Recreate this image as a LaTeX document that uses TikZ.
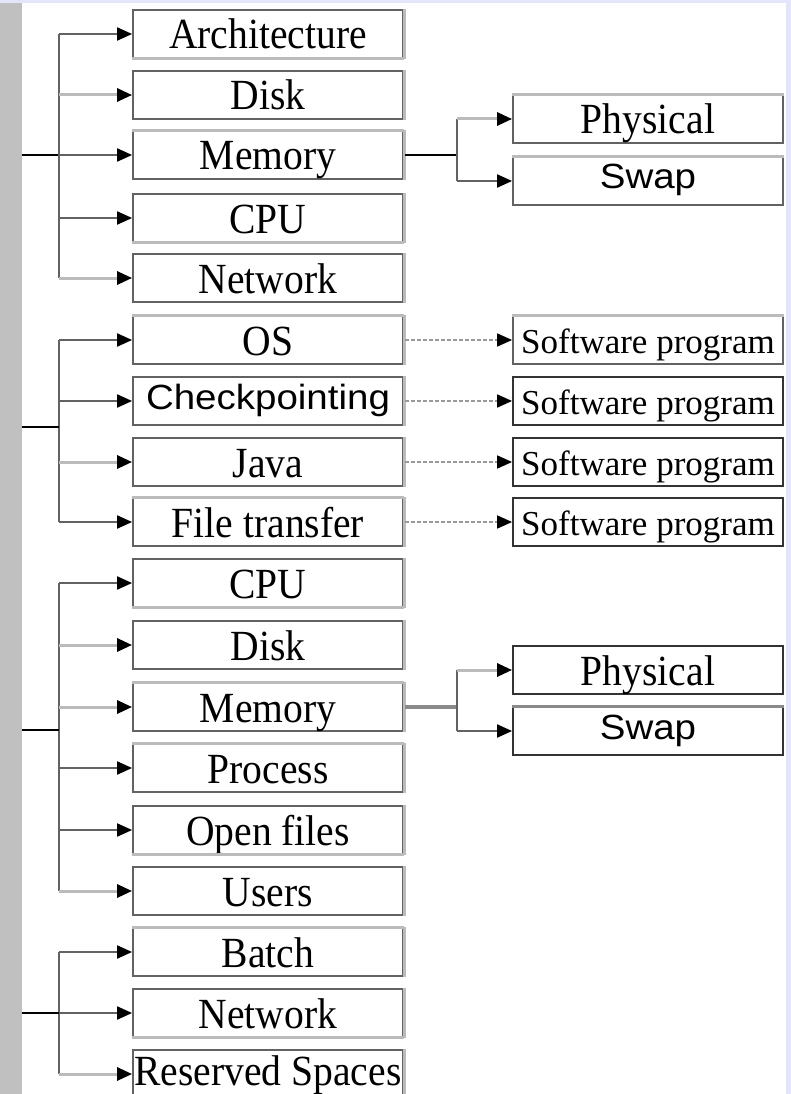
\documentclass[tikz,border=0pt]{standalone}
\usepackage{fontspec}
\setmainfont{Liberation Serif}[FakeStretch=0.92]
\newfontfamily\progfont{Liberation Serif}
\newfontfamily\sansf{Liberation Sans}[FakeStretch=1.1]
\usetikzlibrary{arrows.meta}
\definecolor{lav}{HTML}{E4E4FA}
\definecolor{barg}{HTML}{C0C0C0}
\definecolor{edge}{HTML}{626262}
\definecolor{pale}{HTML}{BBBBBB}
\definecolor{midg}{HTML}{8A8A8A}
\definecolor{dashg}{HTML}{9A9A9A}

\begin{document}
\begin{tikzpicture}[x=1pt,y=-1pt,
  box/.style={draw=edge, line width=1.8pt, fill=white, minimum width=270pt,
    minimum height=48pt, inner sep=0pt, anchor=center,
    font=\fontsize{43}{46}\selectfont, text height=36pt, text depth=6pt},
  sanslbl/.style={font=\sansf\fontsize{35}{40}\selectfont, text height=28pt, text depth=12pt},
  proglbl/.style={font=\progfont\fontsize{35}{40}\selectfont, text height=32pt, text depth=6pt},
  darkbox/.style={draw=black!80},
  tip/.style={-{Triangle[length=15pt,width=13pt,color=black]}},
  darkline/.style={draw=edge, line width=2pt},
  paleline/.style={draw=pale, line width=3pt},
  trunk/.style={draw=black, line width=2pt},
  dotline/.style={draw=dashg, line width=1.6pt, dash pattern=on 4pt off 2pt},
]
% canvas
\fill[lav] (0,0) rectangle (791,1094);
\fill[barg] (0,3) rectangle (22,1094);
\fill[white] (22,3) rectangle (786,1094);
\useasboundingbox (0,0) rectangle (791,1094);

% left column
\node[box] (arch)  at (268,34)   {Architecture};
\node[box] (disk1) at (268,95)   {Disk};
\node[box] (mem1)  at (268,155)  {Memory};
\node[box] (cpu1)  at (268,218)  {CPU};
\node[box] (net1)  at (268,278)  {Network};
\node[box] (os)    at (268,340)  {OS};
\node[box,sanslbl] (chk) at (268,401) {Checkpointing};
\node[box] (java)  at (268,462)  {Java};
\node[box] (ft)    at (268,522)  {File transfer};
\node[box] (cpu2)  at (268,583)  {CPU};
\node[box] (disk2) at (268,645)  {Disk};
\node[box] (mem2)  at (268,707)  {Memory};
\node[box] (proc)  at (268,768)  {Process};
\node[box] (open)  at (268,830)  {Open files};
\node[box] (users) at (268,891)  {Users};
\node[box] (batch) at (268,952)  {Batch};
\node[box] (net2)  at (268,1013) {Network};
\node[box,text height=32pt,text depth=10pt] (res) at (268,1074) {Reserved Spaces};

% right column
\node[box] (phys1) at (648,119) {Physical};
\node[box,sanslbl] (swap1) at (648,181) {Swap};
\node[box,proglbl] (sw1) at (648,340) {Software program};
\node[box,proglbl,darkbox] (sw2) at (648,401) {Software program};
\node[box,proglbl,darkbox] (sw3) at (648,462) {Software program};
\node[box,proglbl,darkbox] (sw4) at (648,522) {Software program};
\node[box,draw=black!80] (phys2) at (648,670) {Physical};
\node[box,sanslbl,draw=black!80] (swap2) at (648,731) {Swap};

% shaded right edges of the left column
\foreach \n in {arch,disk1,mem1,cpu1,net1,os,chk,java,ft,cpu2,disk2,mem2,proc,open,users,batch,net2,res}
  \draw[pale, line width=3pt] ([xshift=0.8pt]\n.north east) -- ([xshift=0.8pt]\n.south east);
% lighter top edges
\foreach \n in {mem1,os,ft,mem2,proc,batch,phys1,swap1,sw1}
  \draw[pale, line width=3pt] (\n.north west) -- (\n.north east);
\draw[midg, line width=3pt] (swap2.north west) -- (swap2.north east);
\foreach \n in {arch,cpu1,cpu2,open,net2}
  \draw[pale, line width=3pt] (\n.south west) -- (\n.south east);

% branch points
\coordinate (r1) at (22,155);   \coordinate (v1) at (59,155);
\coordinate (r2) at (22,427);   \coordinate (v2) at (59,427);
\coordinate (r3) at (22,730);   \coordinate (v3) at (59,730);
\coordinate (r4) at (22,1013);  \coordinate (v4) at (59,1013);

% group 1
\draw[trunk] (r1) -- (v1);
\draw[darkline] (arch.west -| v1) -- (net1.west -| v1);
\draw[darkline,tip] (arch.west -| v1) -- (arch.west);
\draw[paleline,tip] (disk1.west -| v1) -- (disk1.west);
\draw[darkline,tip] (mem1.west -| v1) -- (mem1.west);
\draw[darkline,tip] (cpu1.west -| v1) -- (cpu1.west);
\draw[paleline,tip] (net1.west -| v1) -- (net1.west);

% group 2
\draw[darkline] (os.west -| v2) -- (ft.west -| v2);
\draw[trunk] (r2) -- (v2);
\draw[darkline,tip] (os.west -| v2) -- (os.west);
\draw[darkline,tip] (chk.west -| v2) -- (chk.west);
\draw[paleline,tip] (java.west -| v2) -- (java.west);
\draw[darkline,tip] (ft.west -| v2) -- (ft.west);

% group 3
\draw[darkline] (cpu2.west -| v3) -- (users.west -| v3);
\draw[trunk] (r3) -- (v3);
\draw[darkline,tip] (cpu2.west -| v3) -- (cpu2.west);
\draw[paleline,tip] (disk2.west -| v3) -- (disk2.west);
\draw[paleline,tip] (mem2.west -| v3) -- (mem2.west);
\draw[darkline,tip] (proc.west -| v3) -- (proc.west);
\draw[darkline,tip] (open.west -| v3) -- (open.west);
\draw[paleline,tip] (users.west -| v3) -- (users.west);

% group 4
\draw[darkline] (batch.west -| v4) -- (res.west -| v4);
\draw[trunk] (r4) -- (v4);
\draw[darkline,tip] (batch.west -| v4) -- (batch.west);
\draw[darkline,tip] (net2.west -| v4) -- (net2.west);
\draw[paleline,tip] (res.west -| v4) -- (res.west);

% memory splits
\coordinate (m1) at (457,155);
\coordinate (m2) at (457,707);
\draw[trunk] ([xshift=1.5pt]mem1.east) -- (m1);
\draw[darkline] (phys1.west -| m1) -- (swap1.west -| m1);
\draw[paleline,tip] (phys1.west -| m1) -- (phys1.west);
\draw[darkline,tip] (swap1.west -| m1) -- (swap1.west);

\draw[draw=midg, line width=3.5pt] ([xshift=1.5pt]mem2.east) -- (m2);
\draw[darkline] (phys2.west -| m2) -- (swap2.west -| m2);
\draw[paleline,tip] (phys2.west -| m2) -- (phys2.west);
\draw[darkline,tip] (swap2.west -| m2) -- (swap2.west);

% software links
\draw[dotline,tip] ([xshift=1.5pt]os.east) -- (sw1.west);
\draw[dotline,tip] ([xshift=1.5pt]chk.east) -- (sw2.west);
\draw[dotline,tip] ([xshift=1.5pt]java.east) -- (sw3.west);
\draw[dotline,tip] ([xshift=1.5pt]ft.east) -- (sw4.west);
\end{tikzpicture}
\end{document}
